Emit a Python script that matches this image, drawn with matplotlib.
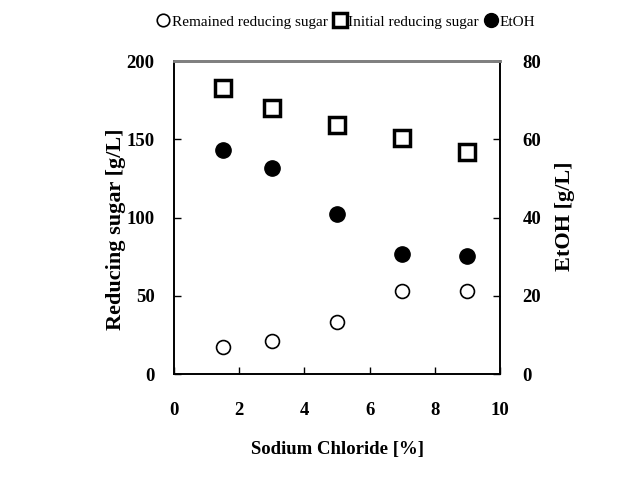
import numpy as np
import matplotlib.pyplot as plt
from matplotlib.lines import Line2D

# data
nacl = [1.5, 3, 5, 7, 9]
remained_sugar = [17, 21, 33, 53, 53]
initial_sugar = [183, 170, 159, 151, 142]
etoh = [57.3, 52.7, 40.8, 30.6, 30.2]

plt.rcParams['font.family'] = ['Liberation Serif', 'DejaVu Serif']

fig = plt.figure(figsize=(6.33, 4.82), dpi=100)
ax = fig.add_axes([0.275, 0.224, 0.515, 0.649])
ax2 = ax.twinx()

ax.plot(nacl, remained_sugar, 'o', ms=10, mfc='white', mec='black', mew=1.2)
ax.plot(nacl, initial_sugar, 's', ms=12, mfc='white', mec='black', mew=2.5)
ax2.plot(nacl, etoh, 'o', ms=11, mfc='black', mec='black')

ax.set_xlim(0, 10)
ax.set_ylim(0, 200)
ax2.set_ylim(0, 80)
ax.set_xticks([0, 2, 4, 6, 8, 10])
ax.set_yticks([0, 50, 100, 150, 200])
ax2.set_yticks([0, 20, 40, 60, 80])

for a in (ax, ax2):
    a.tick_params(direction='in', length=5, width=1, labelsize=13.5, pad=8)
    for lab in a.get_xticklabels() + a.get_yticklabels():
        lab.set_fontweight('bold')
    for s in a.spines.values():
        s.set_linewidth(1.2)
    a.spines['top'].set_color('gray')
    a.spines['top'].set_linewidth(2)
ax.tick_params(axis='x', pad=20)
ax.tick_params(axis='y', pad=14)
ax2.tick_params(axis='y', pad=16)

ax.set_xlabel('Sodium Chloride [%]', fontsize=13.5, fontweight='bold', labelpad=16)
ax.set_ylabel('Reducing sugar [g/L]', fontsize=16, fontweight='bold')
ax.yaxis.set_label_coords(-0.146, 0.463)
ax2.set_ylabel('EtOH [g/L]', fontsize=16, fontweight='bold')
ax2.yaxis.set_label_coords(1.17, 0.505)

handles = [
    Line2D([], [], ls='none', marker='o', ms=9, mfc='white', mec='black', mew=1.2),
    Line2D([], [], ls='none', marker='s', ms=10, mfc='white', mec='black', mew=2.5),
    Line2D([], [], ls='none', marker='o', ms=10, mfc='black', mec='black'),
]
fig.legend(handles, ['Remained reducing sugar', 'Initial reducing sugar', 'EtOH'],
           loc='center', bbox_to_anchor=(0.548, 0.955), ncol=3, frameon=False,
           fontsize=11, handlelength=0.6, handletextpad=0.25, columnspacing=0.5)

fig.savefig('out.png', dpi=100)
